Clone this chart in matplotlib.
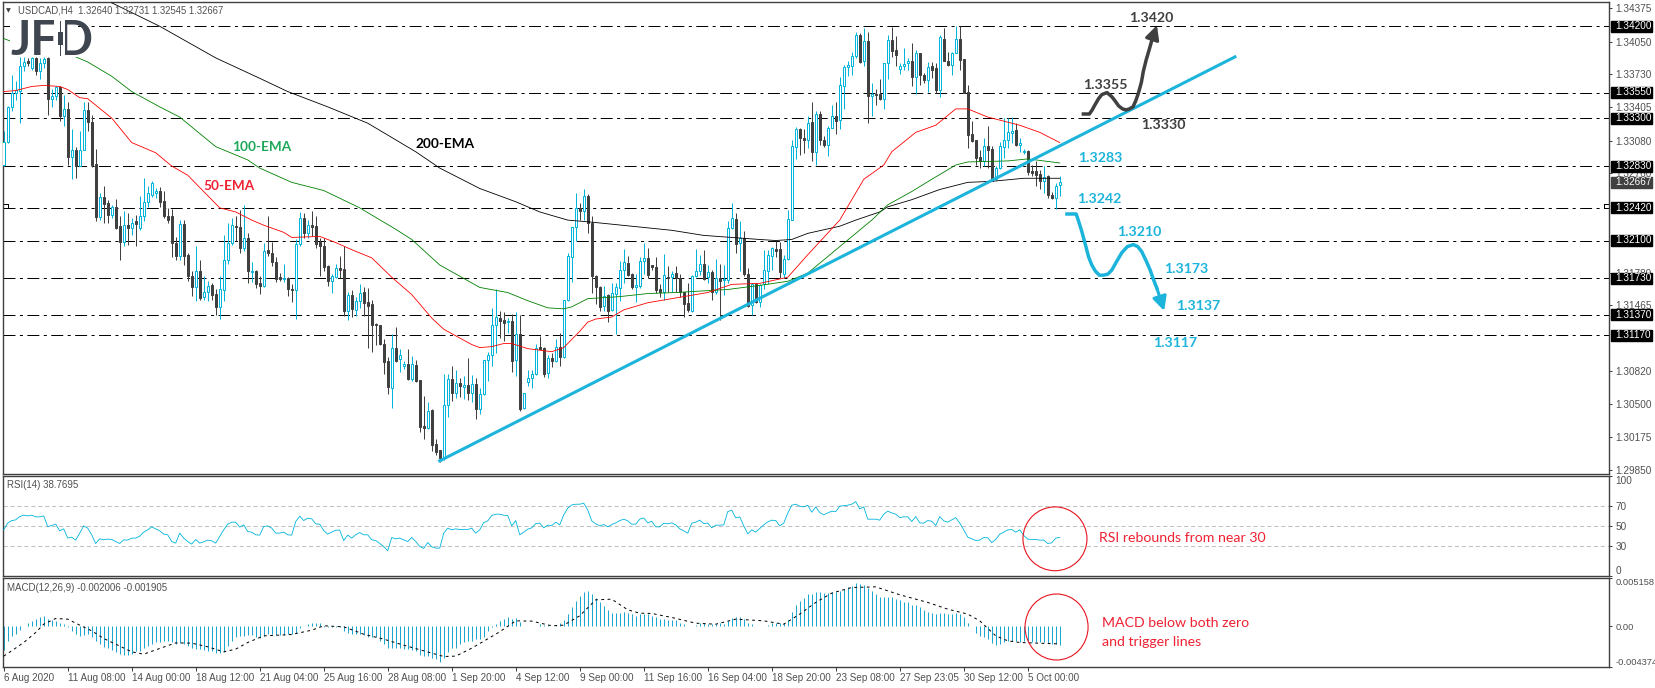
import numpy as np
import matplotlib
matplotlib.use('Agg')
import matplotlib.pyplot as plt
from matplotlib.patches import Ellipse, Rectangle

plt.rcParams['font.family'] = ['Liberation Sans', 'DejaVu Sans']
plt.rcParams['lines.scale_dashes'] = False

W, H = 1655, 688

# 4H candles, prices in 1/10000
opens = [13284,13307,13341,13355,13357,13381,13386,13379,13389,13376,
13384,13389,13349,13352,13360,13332,13339,13292,13299,13283,
13299,13338,13326,13285,13233,13253,13247,13235,13243,13224,
13209,13225,13222,13229,13222,13234,13248,13255,13257,13259,
13249,13234,13234,13208,13195,13226,13196,13175,13164,13180,
13155,13160,13166,13158,13145,13161,13191,13208,13224,13223,
13203,13212,13179,13180,13168,13165,13201,13198,13189,13174,
13172,13173,13162,13161,13207,13232,13217,13225,13224,13209,
13205,13185,13170,13174,13183,13182,13141,13157,13142,13151,
13160,13150,13148,13128,13127,13109,13092,13065,13105,13094,
13087,13089,13074,13088,13073,13028,13026,13044,13011,13005,
12997,13049,13074,13061,13070,13066,13068,13061,13069,13045,
13060,13093,13098,13127,13134,13132,13130,13131,13093,13118,
13046,13071,13075,13079,13106,13105,13080,13095,13092,13106,
13096,13152,13194,13223,13242,13239,13254,13227,13175,13164,
13146,13157,13142,13158,13163,13181,13188,13177,13164,13165,
13190,13193,13186,13184,13162,13160,13174,13174,13178,13173,
13160,13149,13141,13175,13180,13187,13174,13179,13160,13173,
13171,13171,13222,13231,13208,13212,13177,13147,13167,13150,
13167,13180,13195,13202,13202,13177,13192,13230,13302,13319,
13310,13309,13326,13297,13334,13309,13304,13320,13332,13328,
13361,13380,13381,13391,13411,13386,13406,13352,13354,13354,
13349,13384,13407,13397,13378,13381,13384,13386,13370,13394,
13372,13367,13381,13379,13358,13408,13386,13382,13394,13408,
13388,13356,13314,13309,13292,13288,13303,13300,13270,13281,
13302,13309,13315,13318,13304,13297,13298,13278,13278,13275,
13268,13273,13255,13252,13264]
closes = [13307,13341,13355,13358,13381,13385,13384,13389,13376,13384,
13388,13349,13352,13360,13332,13339,13292,13299,13283,13299,
13338,13326,13284,13233,13253,13246,13235,13243,13222,13209,
13225,13222,13227,13226,13234,13248,13257,13266,13259,13248,
13234,13230,13208,13195,13226,13195,13175,13164,13180,13154,
13160,13165,13157,13145,13162,13191,13208,13225,13223,13203,
13212,13180,13180,13167,13165,13200,13198,13189,13172,13172,
13173,13162,13161,13207,13232,13217,13225,13223,13207,13205,
13184,13170,13175,13183,13181,13141,13157,13143,13151,13159,
13149,13146,13127,13127,13109,13091,13066,13105,13092,13098,
13089,13074,13089,13072,13027,13026,13043,13010,13003,12997,
13049,13074,13061,13070,13067,13068,13061,13069,13045,13060,
13093,13098,13127,13135,13131,13129,13131,13092,13118,13045,
13061,13075,13079,13105,13104,13079,13095,13092,13106,13096,
13152,13195,13223,13242,13239,13254,13227,13175,13164,13145,
13156,13141,13159,13164,13181,13189,13176,13164,13166,13190,
13193,13176,13184,13161,13160,13176,13173,13177,13173,13160,
13148,13142,13175,13180,13187,13172,13179,13160,13173,13170,
13172,13222,13232,13207,13212,13177,13146,13167,13150,13166,
13181,13196,13203,13200,13179,13192,13231,13303,13319,13310,
13309,13325,13297,13334,13309,13304,13320,13332,13327,13362,
13380,13382,13391,13411,13385,13406,13352,13354,13353,13349,
13384,13407,13396,13392,13381,13383,13386,13370,13394,13372,
13367,13380,13377,13358,13409,13386,13382,13394,13408,13387,
13355,13313,13308,13291,13288,13303,13299,13268,13281,13303,
13309,13316,13317,13304,13306,13298,13277,13276,13274,13268,
13272,13255,13252,13263,13267]
highs = [13317,13342,13372,13366,13390,13390,13389,13390,13390,13389,
13390,13390,13359,13361,13361,13353,13346,13319,13302,13317,
13346,13346,13333,13300,13257,13263,13250,13245,13251,13234,
13239,13237,13232,13235,13254,13271,13263,13268,13261,13262,
13259,13242,13241,13213,13230,13230,13198,13180,13205,13191,
13175,13170,13168,13162,13175,13215,13227,13232,13234,13240,
13245,13217,13189,13181,13175,13208,13234,13209,13194,13178,
13187,13174,13167,13211,13238,13237,13230,13239,13234,13212,
13212,13186,13177,13187,13195,13205,13160,13161,13155,13167,
13164,13163,13152,13129,13127,13113,13096,13118,13125,13104,
13092,13104,13097,13093,13073,13058,13052,13045,13015,13005,
13079,13079,13087,13083,13075,13077,13095,13078,13075,13065,
13093,13101,13144,13162,13141,13140,13134,13138,13140,13137,
13061,13083,13083,13109,13116,13106,13098,13100,13113,13119,
13152,13198,13223,13257,13247,13260,13256,13234,13176,13165,
13165,13158,13168,13168,13190,13202,13195,13178,13177,13194,
13208,13203,13186,13194,13167,13197,13185,13180,13185,13177,
13160,13168,13176,13202,13196,13201,13186,13181,13192,13187,
13186,13229,13247,13237,13229,13219,13183,13168,13168,13167,
13201,13201,13204,13210,13209,13196,13240,13309,13321,13320,
13319,13332,13346,13337,13337,13312,13322,13343,13346,13370,
13382,13386,13395,13414,13413,13418,13414,13364,13359,13368,
13384,13411,13419,13410,13384,13399,13389,13404,13397,13394,
13374,13385,13385,13384,13411,13418,13395,13395,13420,13420,
13388,13362,13327,13309,13299,13310,13322,13303,13283,13307,
13330,13330,13331,13325,13310,13300,13299,13284,13288,13279,
13283,13274,13258,13266,13273]
lows = [13283,13306,13337,13348,13325,13376,13381,13377,13372,13368,
13379,13333,13341,13348,13327,13322,13284,13270,13271,13283,
13299,13317,13282,13229,13230,13227,13227,13232,13221,13191,
13205,13206,13215,13205,13220,13229,13243,13253,13252,13243,
13232,13227,13194,13191,13191,13186,13170,13156,13151,13152,
13152,13151,13152,13137,13133,13151,13187,13206,13210,13198,
13200,13168,13169,13163,13158,13164,13195,13185,13169,13170,
13169,13156,13150,13133,13205,13212,13212,13214,13203,13175,
13180,13165,13159,13173,13173,13136,13132,13135,13136,13144,
13136,13105,13101,13108,13108,13079,13060,13046,13091,13081,
13084,13073,13072,13071,13022,13015,13025,13004,13000,12993,
12995,13037,13053,13056,13057,13055,13054,13052,13035,13040,
13059,13072,13087,13100,13114,13111,13119,13081,13077,13043,
13045,13067,13065,13078,13104,13076,13075,13086,13091,13087,
13095,13151,13169,13210,13230,13230,13217,13159,13148,13141,
13141,13130,13141,13118,13151,13168,13175,13162,13150,13163,
13177,13173,13181,13159,13155,13152,13160,13160,13160,13155,
13135,13140,13140,13174,13176,13171,13168,13152,13158,13132,
13157,13168,13221,13198,13180,13175,13145,13137,13149,13145,
13162,13167,13181,13194,13173,13173,13191,13230,13290,13294,
13296,13301,13288,13284,13304,13302,13293,13320,13314,13319,
13339,13371,13372,13389,13384,13381,13325,13332,13343,13348,
13339,13368,13390,13381,13373,13377,13377,13361,13354,13362,
13364,13356,13369,13355,13351,13386,13381,13372,13394,13377,
13355,13301,13307,13284,13281,13283,13281,13268,13269,13280,
13291,13301,13306,13303,13297,13295,13274,13273,13263,13260,
13257,13252,13251,13241,13254]

# moving averages, read at the bars where the line bends
ema200_bars = [27,39,53,64,71,81,91,103,109,119,128,134,141,147,157,167,175,189,193,197,201,209,213,219,221,227,234,241,247,255,264]
ema200_vals = [13443,13420,13389,13369,13356,13341,13325,13297,13281,13261,13248,13238,13230,13228,13224,13220,13215,13211,13210,13211,13217,13224,13230,13238,13243,13250,13260,13267,13268,13271,13271]
ema100_bars = [0,2,18,21,27,32,39,44,53,61,64,72,80,89,98,102,109,114,119,126,131,136,140,142,146,154,161,168,181,189,196,201,209,217,221,227,232,238,241,251,256,264]
ema100_vals = [13408,13405,13390,13385,13371,13356,13341,13331,13302,13289,13281,13267,13259,13242,13221,13211,13186,13175,13164,13159,13151,13144,13143,13145,13153,13155,13158,13159,13162,13166,13170,13178,13204,13230,13245,13258,13270,13284,13287,13288,13290,13286]
ema50_bars = [0,3,7,10,14,16,19,21,27,32,38,42,46,54,58,62,65,70,72,79,83,87,92,97,102,107,110,117,119,122,125,127,131,137,140,144,146,148,152,155,161,167,176,182,189,196,201,209,215,220,222,228,233,238,241,246,254,259,264]
ema50_vals = [13356,13357,13361,13362,13361,13358,13350,13349,13330,13306,13296,13283,13274,13242,13238,13230,13225,13218,13213,13214,13208,13201,13193,13174,13157,13134,13123,13108,13105,13106,13109,13109,13104,13101,13105,13121,13130,13133,13135,13142,13149,13153,13159,13167,13168,13174,13196,13230,13270,13284,13297,13316,13323,13339,13339,13331,13323,13316,13306]

levels = [13420,13355,13330,13283,13242,13210,13173,13137,13117]
price_ticks = [13437.5,13405,13373,13340.5,13308,13276,13178,13146.5,13082,13050,13017.5,12985]

# rsi(14)
rsi = [46.3,53,55.6,56.3,59.6,61,60.3,61,59.3,59.3,60.3,49.6,50.6,52,45.3,47.3,38,39,36,43,50.3,48,41.3,32.6,37.3,36.3,37,36.6,34.6,32.6,
36.3,36,38,38,40,44,46.3,49.3,47.3,45.3,42,41.3,34.6,33,43,38,34.6,32,36.6,33,34.3,36,35.3,33,39.6,46.3,52,54,54,49,
51.3,44.6,44,41.3,41,49.6,50.3,48,43,43,44,41.3,41,54.6,60,55.6,58,57.3,52.3,52,45.6,42,44,46,46,35.6,41,38,41.3,43.6,
41.3,41.3,36.3,35.6,32.6,29.6,25.3,38.6,37.3,38,36.3,34.6,38.6,34.6,29.6,27.6,33.6,29.3,28,28,43,48,46.3,47.3,46.6,46.6,46.6,48,43,46.3,53.6,
55.3,60.6,62,62,
61,60.6,50.3,55.6,41.3,44,47,48.3,52.6,53,48.3,51,50.6,54,51.3,61.3,68,71.3,72,72,73,66.3,55.3,52.3,50.3,51.6,49.3,51.6,53.3,55.6,
57,55.3,52,52,57,58.3,53.3,55,49.3,49.3,53,52.3,53.3,51.3,47.3,45.3,43,53,54,56,52.6,53,48.3,51,51,51.3,64.6,66,58.3,59.3,
50.3,42.3,46.3,44,47.6,51.3,54.3,56,55.6,50.3,53,63,71,72,70,69.3,71,64,69.3,63.6,61.3,63.3,65,64.6,70,70.6,71,72,74.6,67.3,
69.3,57,57,57,56,62,65,63.3,62,58.6,59.3,59.3,54.6,59.6,53.3,53,55.6,55,50.6,59.6,55.3,54,56.3,58.6,53,46.3,39,37.3,35.6,36,
38.6,38.3,33.6,36.6,42,44,46.3,46.6,44,
46.3,40.6,37,36.6,36.6,36,36,32.6,33.3,38,38.77]

# macd histogram, in thousandths
macd = [-2.57,-1.57,-1.04,-.86,-.43,0,.29,.57,.79,1.0,1.07,.79,.64,.57,.39,.21,-.07,-.5,-.86,-1.04,-.93,-.86,-1.21,-1.57,-1.86,-2.18,-2.36,-2.57,-2.82,-3.0,
-3.11,-3.07,-2.93,-2.71,-2.64,-2.36,-2.14,-1.86,-1.75,-1.71,-1.57,-1.57,-1.75,-1.86,-1.79,-1.86,-2.11,-2.36,-2.46,-2.43,-2.54,-2.64,-2.71,-2.86,-2.86,-2.75,-2.11,-1.57,-1.21,-1.07,
-1.04,-.93,-.93,-1.14,-1.29,-1.04,-.86,-.86,-.93,-.96,-.93,-.86,-.86,-.71,-.21,0,.21,.32,.32,.29,-.07,-.07,-.07,-.07,-.14,-.5,-.68,-.79,-.86,-.86,
-.93,-1.11,-1.14,-1.21,-1.64,-1.93,-2.36,-2.36,-2.39,-2.39,-2.46,-2.46,-2.57,-2.71,-3.07,-3.21,-3.21,-3.36,-3.54,-3.82,-3.36,-2.82,-2.36,-2.29,-1.93,-1.75,-1.57,-1.57,-1.39,-1.39,
-1.14,-.5,-.07,.21,.5,
.75,.93,.75,.86,.46,.02,.04,.04,.07,.21,.11,.11,.04,.11,.29,.64,1.29,2.07,2.71,3.21,3.68,3.79,3.43,3.0,2.54,2.18,1.71,1.46,1.39,1.43,
1.5,1.43,1.29,1.04,1.25,1.29,1.29,1.07,.93,.75,.75,.68,.71,.64,.39,.21,.04,.04,.11,.32,.39,.21,.21,.21,.29,.21,.57,.89,1.0,.93,
.75,.39,.21,.02,0,.02,.14,.39,.39,.39,.39,.64,1.54,2.25,2.71,3.0,3.43,3.43,3.64,3.61,3.57,3.54,3.61,3.68,3.79,3.96,4.21,4.32,4.61,4.5,
4.46,4.11,3.79,3.43,3.11,3.11,3.14,3.07,2.96,2.79,2.64,2.61,2.25,2.25,2.0,1.71,1.57,1.46,1.29,1.39,1.39,1.32,1.32,1.39,1.29,1.0,.32,0,-.68,-1.04,
-1.21,-1.39,-1.82,-2.04,-1.86,-1.75,-1.64,-1.64,-1.57,
-1.75,-1.57,-1.64,-1.71,-1.75,-1.75,-1.75,-1.82,-1.86,-1.93,-2.006]
signal_bars = [0,2,5,8,10,13,16,19,22,25,28,32,35,38,43,47,51,55,58,61,65,72,77,80,85,90,95,100,105,110,113,117,123,124,128,132,137,140,144,148,152,156,159,162,167,173,178,183,190,195,199,203,207,212,218,224,231,236,241,244,248,251,254,264]
signal_vals = [-3.21,-2.64,-1.75,-.68,.21,.82,.75,.11,-.5,-1.32,-1.93,-2.75,-3.0,-2.54,-1.79,-1.82,-2.21,-2.75,-2.46,-1.75,-1.04,-.89,-.43,.04,-.07,-.86,-1.39,-2.04,-2.64,-3.25,-3.21,-2.36,-.86,-.6,.57,.54,.04,.11,1.11,2.82,2.89,1.75,1.39,1.36,.93,.32,.21,.75,.57,.21,1.29,2.54,3.54,4.14,4.21,3.36,2.54,1.82,1.29,.57,-1.04,-1.57,-1.75,-1.905]

date_labels = ['6 Aug 2020','11 Aug 08:00','14 Aug 00:00','18 Aug 12:00','21 Aug 04:00','25 Aug 16:00','28 Aug 08:00','1 Sep 20:00','4 Sep 12:00','9 Sep 00:00','11 Sep 16:00','16 Sep 04:00','18 Sep 20:00','23 Sep 08:00','27 Sep 23:05','30 Sep 12:00','5 Oct 00:00']

# trendline and scenario paths
trend_bars = [109,307.8]
trend_vals = [12994,13390]
up_bars = [269.9,271.4,272.1,272.8,273.7,274.5,275.8,277,277.8,278.7,279.7,280.6,281.4,282.3,283,283.7,284.4,284.9,285.6,286.2,287]
up_vals = [13334,13334,13338,13343,13349,13353,13355,13351,13347,13342,13339,13338,13339,13341,13347,13355,13365,13376,13387,13395,13406]
up_tip = (288.3,13421)
down_bars = [265.8,268.1,268.7,269.5,270.4,271.2,272,272.9,273.9,274.9,276,277,278.3,279.5,280.9,282.4,283.5,284.5,285.6,286.6,287.4,288.3]
down_vals = [13236,13236,13229,13219,13206,13194,13186,13180,13176,13176,13177,13181,13190,13198,13204,13206,13204,13199,13190,13181,13172,13163]
down_tip = (290.1,13141)

BLUE = '#00b4dc'
DARK = '#404040'
LINE_BLUE = '#1db4dc'
MACD_BLUE = '#1ba7cf'
GREY = '#505050'
LW = 0.72  # one pixel
THIN = 0.6  # indicator lines

opens, closes, highs, lows = [np.array(a) for a in (opens, closes, highs, lows)]
bars = np.arange(len(opens))
up = closes >= opens

fig = plt.figure(figsize=(W/100, H/100), dpi=100)

def panel(top, bottom):
    left, right = 2.7, 1609
    ax = fig.add_axes([left/W, 1-bottom/H, (right-left)/W, (bottom-top)/H])
    ax.set_xlim(-0.25, 401.3)
    for s in ax.spines.values():
        s.set_color(DARK)
        s.set_linewidth(1.0)
    ax.yaxis.tick_right()
    ax.tick_params(axis='y', length=2.2, width=LW, color=DARK, pad=2.6, labelsize=7.2, labelcolor=GREY)
    ax.set_xticks([])
    return ax

ax = panel(2.3, 473.5)
ax.set_ylim(12981.6, 13443.5)

# support / resistance
for lv in levels:
    ax.axhline(lv, color='black', lw=LW, ls=(0, (8.6, 3.2, 2.2, 3.2)), zorder=1)

# candles
ax.vlines(bars[up], lows[up], highs[up], color=BLUE, lw=LW, zorder=2)
ax.vlines(bars[~up], lows[~up], highs[~up], color=DARK, lw=LW, zorder=2)
ax.bar(bars[up], (closes-opens)[up], bottom=opens[up], width=0.6, facecolor='white', edgecolor=BLUE, lw=LW, zorder=3)
ax.bar(bars[~up], (closes-opens)[~up], bottom=opens[~up], width=0.6, facecolor=DARK, edgecolor=DARK, lw=LW, zorder=3)

# emas
ax.plot(ema200_bars, ema200_vals, color='black', lw=THIN, zorder=4)
ax.plot(ema100_bars, ema100_vals, color='#008000', lw=THIN, zorder=4)
ax.plot(ema50_bars, ema50_vals, color='#ff0000', lw=THIN, zorder=4)
ax.plot(trend_bars, trend_vals, color=LINE_BLUE, lw=2.2, zorder=5)

# scenario arrows
ax.plot(up_bars, up_vals, color=DARK, lw=2.5, zorder=5, solid_joinstyle='round')
ax.annotate('', xy=up_tip, xytext=(up_bars[-1], up_vals[-1]), zorder=5,
            arrowprops=dict(arrowstyle='-|>', color=DARK, lw=2.2, mutation_scale=21, shrinkA=0, shrinkB=0))
ax.plot(down_bars, down_vals, color=LINE_BLUE, lw=2.5, zorder=5, solid_joinstyle='round')
ax.annotate('', xy=down_tip, xytext=(down_bars[-1], down_vals[-1]), zorder=5,
            arrowprops=dict(arrowstyle='-|>', color=LINE_BLUE, lw=2.2, mutation_scale=21, shrinkA=0, shrinkB=0))

# right price axis
ax.set_yticks(price_ticks)
ax.set_yticklabels(['%.5f' % (t/10000) for t in price_ticks])
trans = ax.get_yaxis_transform()
xf = lambda px: (px-2.7)/1606.3
for lv in levels:
    ax.add_patch(Rectangle((xf(1611), lv-5.4), 41/1606.3, 10.8, transform=trans, color='black', clip_on=False, zorder=6))
    ax.text(xf(1615.7), lv+0.3, '%.5f' % (lv/10000), transform=trans, color='white', fontsize=7.2, va='center', zorder=7, clip_on=False)
ax.add_patch(Rectangle((xf(1611), 13267-5.6), 41/1606.3, 11.2, transform=trans, color=DARK, clip_on=False, zorder=6))
ax.text(xf(1615.7), 13267, '1.32667', transform=trans, color='white', fontsize=7.2, va='center', zorder=7, clip_on=False)

# small alert marks at 1.3242
ax.plot([-0.2,1.0,1.0], [13246,13246,13242], color='black', lw=LW, zorder=2)
ax.plot([400,401.3], [13246,13246], color='black', lw=LW, zorder=2)
ax.plot([400,400], [13246,13242], color='black', lw=LW, zorder=2)

# logo sits on top of the candles
ax.add_patch(Rectangle((1.5, 13390), 17, 40, facecolor='white', edgecolor='none', zorder=8))

rsi_ax = panel(475.5, 576)
rsi_ax.set_ylim(0.3, 100.8)
for g in (70, 50, 30):
    rsi_ax.axhline(g, color='#c0c0c0', lw=LW, ls=(0, (3, 2)), zorder=1)
rsi_ax.plot(np.arange(len(rsi)), rsi, color=BLUE, lw=THIN, zorder=3)
rsi_ax.set_yticks([0, 30, 50, 70, 100])
rsi_ax.set_yticklabels(['0', '30', '50', '70', '100'])
rsi_ax.get_yticklabels()[0].set_va('bottom')
rsi_ax.get_yticklabels()[4].set_va('top')
rsi_ax.add_patch(Ellipse((262.8, 37.3), 16, 64, fill=False, edgecolor='#e8141e', lw=0.8, zorder=4))

macd_ax = panel(578, 667)
macd_ax.set_ylim(-4.374, 5.158)
macd_ax.vlines(np.arange(len(macd)), 0, macd, color=MACD_BLUE, lw=LW, zorder=2)
macd_ax.plot(signal_bars, signal_vals, color='black', lw=LW, ls=(0, (2, 2.5)), zorder=3)
macd_ax.set_yticks([-4.374, 0, 5.158])
macd_ax.set_yticklabels(['-0.004374', '0.00', '0.005158'], fontsize=6.7)
macd_ax.get_yticklabels()[0].set_va('bottom')
macd_ax.get_yticklabels()[2].set_va('top')
macd_ax.add_patch(Ellipse((263.2, -0.09), 15.75, 7.07, fill=False, edgecolor='#e8141e', lw=0.8, zorder=4))
macd_ax.set_xticks(np.arange(len(date_labels))*16)
macd_ax.set_xticklabels(date_labels, ha='left', fontsize=7.1, color=GREY)
macd_ax.tick_params(axis='x', length=2.6, width=LW, color=DARK, pad=1.6)

def label(x, y, s, **kw):
    kw.setdefault('va', 'center')
    return fig.text(x/W, 1-y/H, s, zorder=20, **kw)

# header and panel captions
label(6, 10.5, '\u25bc', fontsize=4.5, color=DARK, family='DejaVu Sans')
label(18, 10.5, 'USDCAD,H4  1.32640 1.32731 1.32545 1.32667', fontsize=6.85, color=GREY)
label(7, 484.7, 'RSI(14) 38.7695', fontsize=7.0, color=GREY)
label(7, 587.7, 'MACD(12,26,9) -0.002006 -0.001905', fontsize=7.0, color=GREY)

# logo, the D has a small candle for its stem
label(10, 41, 'JFD', fontsize=34, fontweight='bold', family='Lato', color='#3f4650')
fig.add_artist(Rectangle((54/W, 1-58/H), 11/W, 40/H, transform=fig.transFigure, facecolor='white', edgecolor='none', zorder=21))
fig.add_artist(Rectangle((59.5/W, 1-56/H), 1.2/W, 35/H, transform=fig.transFigure, facecolor='#3f4650', edgecolor='none', zorder=22))
fig.add_artist(Rectangle((58/W, 1-45/H), 5/W, 13/H, transform=fig.transFigure, facecolor='#3f4650', edgecolor='none', zorder=22))

# ema tags
for x, y, s, c in [(232, 147, '100-EMA', '#1fa85a'), (203, 186, '50-EMA', '#ee2233'), (415, 144, '200-EMA', 'black')]:
    label(x, y, s, fontsize=9.8, fontweight='bold', family='Lato', color=c)

# level tags
for x, y, s, c in [(1129, 18, '1.3420', DARK), (1083, 85, '1.3355', DARK), (1141, 125, '1.3330', DARK),
                   (1078, 158, '1.3283', LINE_BLUE), (1077, 199, '1.3242', LINE_BLUE), (1117, 232, '1.3210', LINE_BLUE),
                   (1164, 269, '1.3173', LINE_BLUE), (1176, 306, '1.3137', LINE_BLUE), (1153, 343, '1.3117', LINE_BLUE)]:
    label(x, y, s, fontsize=10.2, fontweight='bold', family='Lato', color=c)

# comments
label(1099, 538, 'RSI rebounds from near 30', fontsize=10.2, family='Lato', color='#ee2233')
label(1102, 623, 'MACD below both zero', fontsize=10.2, family='Lato', color='#ee2233')
label(1102, 642, 'and trigger lines', fontsize=10.2, family='Lato', color='#ee2233')

fig.savefig('out.png', dpi=100, facecolor='white')
